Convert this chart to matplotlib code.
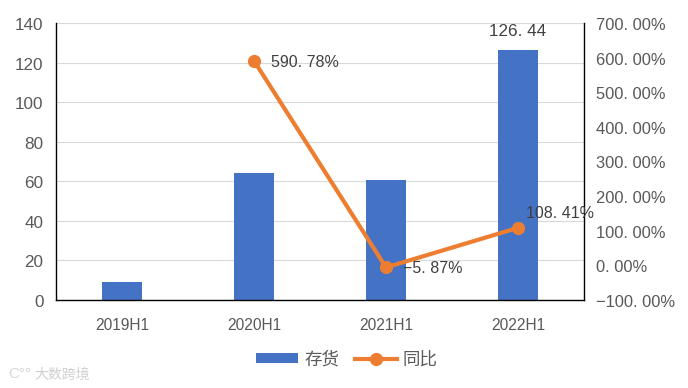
import matplotlib
matplotlib.use("Agg")
import matplotlib.pyplot as plt
from matplotlib.transforms import ScaledTranslation

plt.rcParams['font.family'] = ['Liberation Sans', 'Noto Sans CJK SC', 'DejaVu Sans']

# ── Data ─────────────────────────────────────────────────────────────────────
periods   = ["2019H1", "2020H1", "2021H1", "2022H1"]
inventory = [9.3, 64.4, 60.6, 126.44]
yoy       = [None, 590.78, -5.87, 108.41]
yoy_labels = ["590. 78%", "\u22125. 87%", "108. 41%"]
left_ticks  = [0, 20, 40, 60, 80, 100, 120, 140]
right_ticks = [-100, 0, 100, 200, 300, 400, 500, 600, 700]
right_labels = [f"{v}. 00%".replace("-", "\u2212") for v in right_ticks]

BLUE   = "#4472C4"
ORANGE = "#ED7D31"
TICK   = "#595959"
LABEL  = "#404040"
FS     = 12.3

W, H = 688, 388
fig = plt.figure(figsize=(W / 100, H / 100), dpi=100)
ax = fig.add_axes([56 / W, 1 - 300 / H, (584 - 56) / W, (300 - 23) / H])

x = list(range(len(periods)))
ax.bar(x, inventory, width=0.31, color=BLUE, zorder=2, label="存货")
ax.set_xlim(-0.5, 3.5)
ax.set_ylim(0, 140)
ax.set_yticks(left_ticks)
ax.set_xticks(x)
ax.set_xticklabels(periods)
ax.grid(axis="y", color="#D9D9D9", lw=0.8, zorder=0)
ax.tick_params(axis="y", length=0, labelsize=FS, labelcolor=TICK, pad=9)
ax.tick_params(axis="x", length=0, labelsize=11.2, labelcolor=TICK, pad=13)
ax.spines["top"].set_visible(False)
for s in ["left", "right", "bottom"]:
    ax.spines[s].set_color("black")
    ax.spines[s].set_linewidth(1.0)

ax2 = ax.twinx()
ax2.plot(x[1:], yoy[1:], color=ORANGE, lw=3.0, marker="o", ms=8.5, zorder=5, label="同比")
ax2.set_ylim(-100, 700)
ax2.set_yticks(right_ticks)
ax2.set_yticklabels(right_labels)
ax2.tick_params(axis="y", length=0, labelsize=11.9, labelcolor=TICK, pad=9)
for s in ax2.spines.values():
    s.set_visible(False)

# tick labels sit a pixel low in the original
nudge = ScaledTranslation(0, -1 / 100, fig.dpi_scale_trans)
for lab in ax.get_yticklabels() + ax2.get_yticklabels():
    lab.set_transform(lab.get_transform() + nudge)

# data labels
ax.annotate("126. 44", (3, inventory[3]), xytext=(0, 8), textcoords="offset points",
            ha="center", va="bottom", fontsize=FS, color=LABEL, annotation_clip=False)
offsets = [(12, -1), (12, -1), (6, 10)]
for xi, yi, lab, off in zip(x[1:], yoy[1:], yoy_labels, offsets):
    ax2.annotate(lab, (xi, yi), xytext=off, textcoords="offset points",
                 ha="left", va="center", fontsize=11.5, color=LABEL, zorder=6)

# legend
h1, l1 = ax.get_legend_handles_labels()
h2, l2 = ax2.get_legend_handles_labels()
fig.legend(h1 + h2, l1 + l2, loc="center", bbox_to_anchor=(347 / W, 1 - 359 / H), ncol=2,
           frameon=False, fontsize=12.6, labelcolor=TICK, handlelength=2.4, handleheight=0.45,
           columnspacing=0.9, handletextpad=0.35)

# faint watermark
fig.text(8 / W, 1 - 374 / H, "C°°", fontsize=11, color="#D8D8D8", va="center")
fig.text(34 / W, 1 - 375 / H, "大数跨境", fontsize=10, color="#D0D0D0", va="center")

fig.savefig("out.png", dpi=100)
